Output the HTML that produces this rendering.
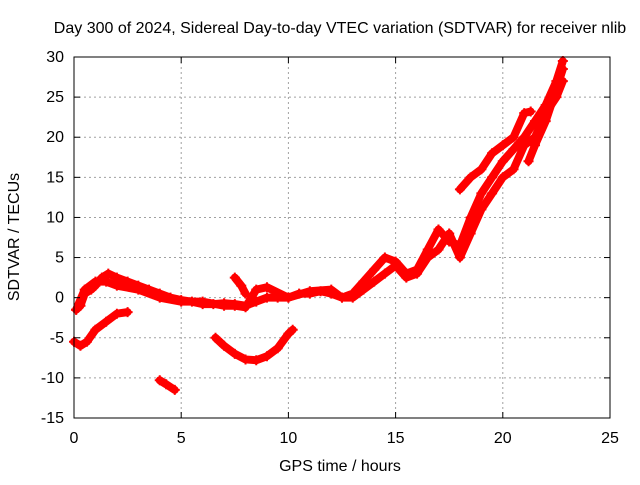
<!DOCTYPE html>
<html><head><meta charset="utf-8"><style>
body{margin:0;background:#fff}
svg text{font-family:"Liberation Sans",sans-serif;font-size:16px;fill:#000}
</style></head><body>
<svg id="c" width="640" height="480">
<rect width="640" height="480" fill="#fff"/>
<g id="grid"></g><g id="series"></g><g id="axes"></g>
<text x="340" y="33" text-anchor="middle">Day 300 of 2024, Sidereal Day-to-day VTEC variation (SDTVAR) for receiver nlib</text>
<text x="340" y="471" text-anchor="middle">GPS time / hours</text>
<text transform="translate(19,237) rotate(-90)" text-anchor="middle">SDTVAR / TECUs</text>
</svg>
<script>
const xTicks=[0,5,10,15,20,25];
const yTicks=[-15,-10,-5,0,5,10,15,20,25,30];
const segA=[[0.1,-1.5],[0.3,-1],[0.5,0.5],[0.8,1],[1,1.5],[1.3,2.5],[1.6,3],[2,2.5],[2.5,2],[3,1.5],[3.5,1],[4,0.5],[4.5,0],[5,-0.3],[5.5,-0.5],[6,-0.8],[6.5,-0.8],[7,-0.7],[7.5,-0.8],[8,-1],[8.5,-0.5],[9,0],[9.5,0],[10,0],[10.5,0.5],[11,0.5],[11.5,0.8],[12,0.5],[12.5,0],[13,0.5],[13.5,2],[14,3.5],[14.5,5],[15,4.5],[15.5,3],[16,3.5],[16.5,6],[17,8.5],[17.5,7],[18,6.5],[18.5,10],[19,13],[19.5,15],[20,17],[20.5,18.5],[21,20],[21.5,22],[22,24],[22.5,27],[22.8,29.5]];
const segB=[[0.1,-1.5],[0.5,1],[1,2],[1.5,2],[2,1.5],[3,1],[4,0],[5,-0.5],[6,-0.5],[7,-1],[7.5,-1],[8,-1.2],[8.5,1],[9,1.3],[10,0],[11,0.8],[12,1],[12.5,0],[13,0],[13.5,1],[14,2],[14.5,3],[15,4],[15.5,2.5],[16,3],[16.5,5],[17,6],[17.5,8],[18,5],[18.5,8],[19,11],[19.5,13],[20,15],[20.5,16],[21,19],[21.5,20],[22,23],[22.5,25],[22.8,27]];
const segC=[[0,-5.5],[0.3,-6],[0.6,-5.5],[1,-4],[1.5,-3],[2,-2],[2.5,-1.8]];
const segD=[[4,-10.3],[4.3,-10.8],[4.7,-11.5]];
const segE=[[6.6,-5],[7,-6],[7.5,-7],[8,-7.7],[8.5,-7.8],[9,-7.3],[9.5,-6.3],[10,-4.5],[10.2,-4]];
const segF=[[7.5,2.5],[7.8,1.5],[8,0.5]];
const segG=[[18,13.5],[18.5,15],[19,16],[19.5,18],[20,19],[20.5,20],[21,23],[21.3,23.2]];
const segH=[[21.2,17],[21.5,19],[22,22],[22.5,26],[22.8,28.5]];
const segs=[segA,segB,segC,segD,segE,segF,segG,segH];
const X0=74,X1=610,Y0=418,Y1=57;
const sx=h=>X0+(h-0)/25*(X1-X0);
const sy=v=>Y0-(v+15)/45*(Y0-Y1);
const NS="http://www.w3.org/2000/svg";
const g=document.getElementById('grid'),ax=document.getElementById('axes'),se=document.getElementById('series');
function mk(t,a,p){const e=document.createElementNS(NS,t);for(const k in a)e.setAttribute(k,a[k]);p.appendChild(e);return e;}
xTicks.forEach(t=>{const x=sx(t);
 if(t>0&&t<25){const l=mk('line',{x1:x,x2:x,y1:Y1,y2:Y0,stroke:'#a0a0a0','stroke-dasharray':'2,3'},g);
 
 }
 const tx=mk('text',{x:x,y:Y0+25,'text-anchor':'middle'},ax);tx.textContent=t;
 
 
 mk('line',{x1:x,x2:x,y1:Y0,y2:Y0-6,stroke:'#000'},ax);mk('line',{x1:x,x2:x,y1:Y1,y2:Y1+6,stroke:'#000'},ax);});
yTicks.forEach(t=>{const y=sy(t);
 if(t>-15&&t<30){const l=mk('line',{x1:X0,x2:X1,y1:y,y2:y,stroke:'#a0a0a0','stroke-dasharray':'2,3'},g);
 
 }
 const tx=mk('text',{x:X0-10,y:y+5,'text-anchor':'end'},ax);tx.textContent=t;
 
 
 mk('line',{x1:X0,x2:X0+6,y1:y,y2:y,stroke:'#000'},ax);mk('line',{x1:X1,x2:X1-6,y1:y,y2:y,stroke:'#000'},ax);});
const fr=mk('rect',{x:X0,y:Y1,width:X1-X0,height:Y0-Y1,fill:'none',stroke:'#000'},ax);


segs.forEach((s,i)=>{
 const p=mk('polyline',{points:s.map(d=>sx(d[0])+','+sy(d[1])).join(' '),fill:'none',stroke:'#f00','stroke-width':8,'stroke-linejoin':'round','stroke-linecap':'round'},se);
 
 
 s.forEach(d=>{const x=sx(d[0]),y=sy(d[1]);
  const m=mk('path',{d:`M${x-5},${y}h10M${x},${y-5}v10`,stroke:'#f00','stroke-width':2},se);
  
  });
});
</script>
</body></html>
